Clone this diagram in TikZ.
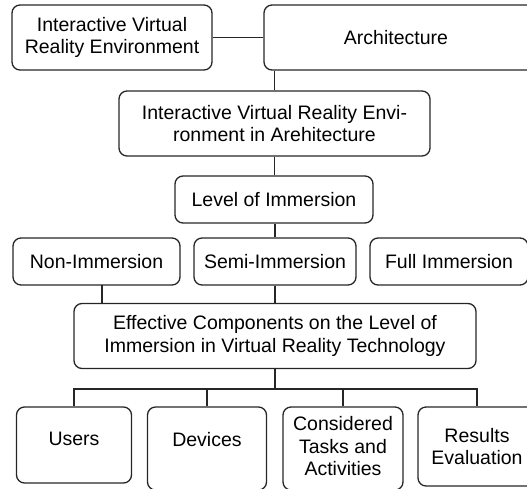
\documentclass[tikz,border=0pt]{standalone}
\usepackage{fontspec}
\setmainfont{Liberation Sans}
\begin{document}
\begin{tikzpicture}[x=1pt,y=-1pt,
  box/.style={draw=black!85, line width=1.3pt, rounded corners=8pt, inner sep=0pt,
    align=center, font=\fontsize{19.5}{22.5}\selectfont},
  link/.style={draw=black!85, line width=1.3pt}]
\useasboundingbox (0,0) rectangle (527,488);
\clip (0,0) rectangle (527,488);
% top row
\node[box, minimum width=200pt, minimum height=65pt] (ive) at (112,37.5) {Interactive Virtual\\Reality Environment};
\node[box, minimum width=272pt, minimum height=65pt] (arch) at (400,37.5) {\hspace*{-8pt}Architecture};
\node[box, minimum width=311pt, minimum height=65pt] (ivea) at (274.5,123.5) {Interactive Virtual Reality Envi-\\ronment in Arehitecture};
\node[box, minimum width=198pt, minimum height=47pt] (loi) at (274,199.5) {Level of Immersion};
\node[box, minimum width=167pt, minimum height=47pt] (non) at (96.5,261.5) {Non-Immersion};
\node[box, minimum width=162pt, minimum height=47pt] (semi) at (275,261.5) {Semi-Immersion};
\node[box, minimum width=158pt, minimum height=47pt] (full) at (449,261.5) {Full Immersion};
\node[box, minimum width=402pt, minimum height=65pt] (eff) at (275,336) {Effective Components on the Level of\\Immersion in Virtual Reality Technology};
\node[box, minimum width=115pt, minimum height=76pt] (users) at (74,445) {\raisebox{12pt}{Users}};
\node[box, minimum width=119pt, minimum height=83pt] (dev) at (207,448.5) {\raisebox{18pt}{Devices}};
\node[box, minimum width=120pt, minimum height=83pt] (cons) at (343,448.5) {\raisebox{12pt}{\begin{tabular}{@{}c@{}}Considered\\Tasks and\\Activities\end{tabular}}};
\node[box, minimum width=118pt, minimum height=79pt] (res) at (477,446.5) {Results\\Evaluation};
% connectors
\draw[link] (ive.east) -- (arch.west |- ive.east);
\draw[link] (ivea.north) -- (ivea.north |- arch.south);
\draw[link] (ivea.south) -- (loi.north -| ivea.south);
\draw[link] (semi.north) -- (semi.north |- loi.south);
\coordinate (nonb) at (102,285);
\draw[link] (nonb) -- (nonb |- eff.north);
\draw[link] (semi.south) -- (semi.south |- eff.north);
\coordinate (bus) at (275,389);
\draw[link] (eff.south -| bus) -- (bus);
\draw[link] (users.north) -- (users.north |- bus) -- (res.north |- bus) -- (res.north);
\draw[link] (dev.north) -- (dev.north |- bus);
\draw[link] (cons.north) -- (cons.north |- bus);
\end{tikzpicture}
\end{document}
